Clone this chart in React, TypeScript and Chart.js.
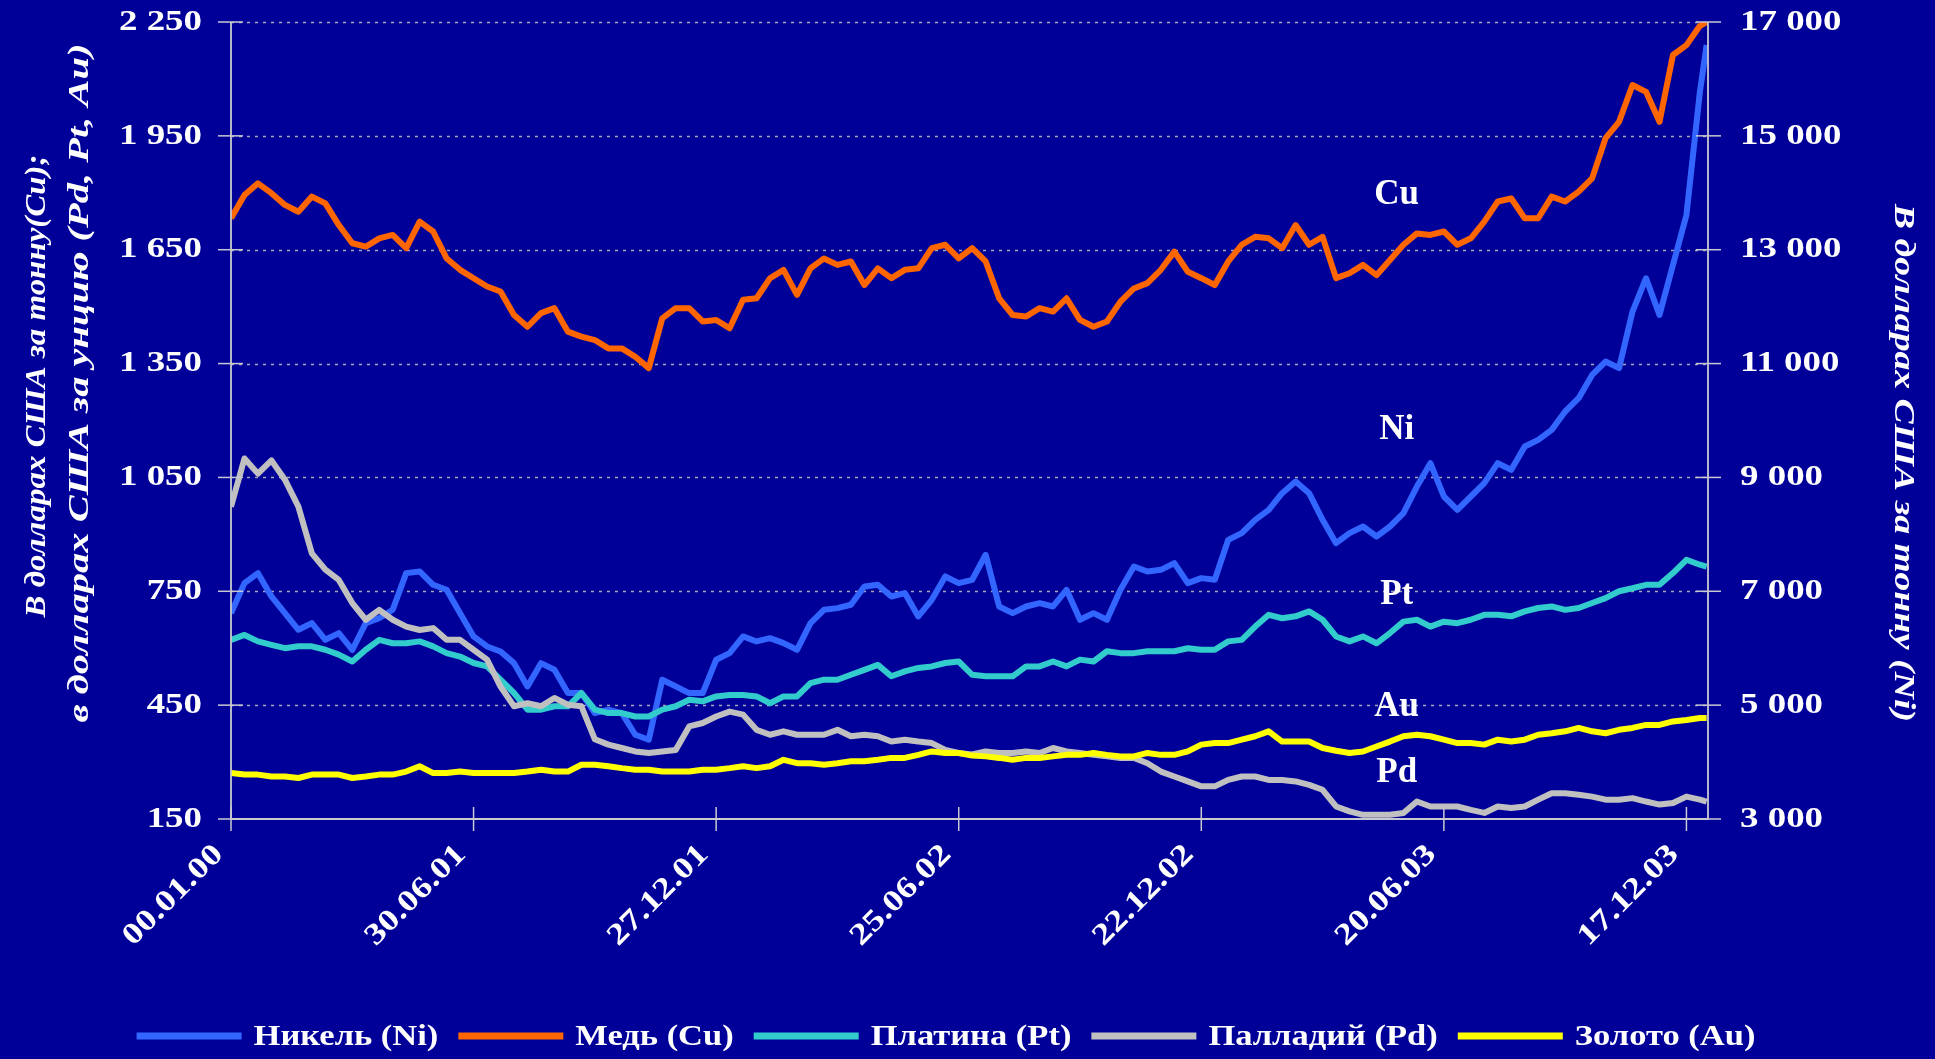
import React, { useEffect, useRef } from "react";
import { Chart, registerables } from "chart.js";

Chart.register(...registerables);

// ---- DATA ----
const days = [
  0, 10, 20, 30, 40, 50, 60, 70, 80, 90,
  100, 110, 120, 130, 140, 150, 160, 170, 180, 190,
  200, 210, 220, 230, 240, 250, 260, 270, 280, 290,
  300, 310, 320, 330, 340, 350, 360, 370, 380, 390,
  400, 410, 420, 430, 440, 450, 460, 470, 480, 490,
  500, 510, 520, 530, 540, 550, 560, 570, 580, 590,
  600, 610, 620, 630, 640, 650, 660, 670, 680, 690,
  700, 710, 720, 730, 740, 750, 760, 770, 780, 790,
  800, 810, 820, 830, 840, 850, 860, 870, 880, 890,
  900, 910, 920, 930, 940, 950, 960, 970, 980, 990,
  1000, 1010, 1020, 1030, 1040, 1050, 1060, 1070, 1080, 1090,
  1095,
];

const nickel = [
  6616, 7143, 7319, 6909, 6616, 6324, 6441, 6148, 6265, 5972,
  6441, 6529, 6675, 7319, 7348, 7114, 7026, 6616, 6207, 6031,
  5943, 5738, 5329, 5738, 5621, 5212, 5212, 4860, 4919, 4860,
  4480, 4392, 5446, 5329, 5212, 5212, 5797, 5914, 6207, 6119,
  6177, 6090, 5972, 6441, 6675, 6704, 6763, 7085, 7114, 6909,
  6968, 6558, 6850, 7260, 7143, 7202, 7641, 6733, 6616, 6733,
  6792, 6733, 7026, 6499, 6616, 6499, 7026, 7436, 7348, 7377,
  7494, 7143, 7231, 7202, 7904, 8021, 8255, 8431, 8723, 8928,
  8723, 8255, 7845, 8021, 8138, 7962, 8138, 8372, 8840, 9250,
  8665, 8431, 8665, 8899, 9250, 9133, 9543, 9660, 9835, 10158,
  10392, 10801, 11036, 10919, 11914, 12499, 11855, 12733, 13611, 15777,
  16596,
];

const copper = [
  1733, 1794, 1825, 1799, 1768, 1750, 1790, 1772, 1715, 1667,
  1658, 1680, 1689, 1654, 1724, 1698, 1627, 1597, 1575, 1553,
  1540, 1478, 1447, 1483, 1496, 1434, 1421, 1412, 1390, 1390,
  1368, 1338, 1469, 1496, 1496, 1461, 1465, 1443, 1518, 1522,
  1575, 1597, 1531, 1601, 1627, 1610, 1619, 1557, 1601, 1575,
  1597, 1601, 1654, 1663, 1627, 1654, 1619, 1522, 1478, 1474,
  1496, 1487, 1522, 1465, 1447, 1461, 1513, 1548, 1562, 1597,
  1645, 1592, 1575, 1557, 1619, 1663, 1684, 1680, 1654, 1715,
  1663, 1684, 1575, 1588, 1610, 1583, 1623, 1663, 1693, 1689,
  1698, 1663, 1680, 1724, 1777, 1785, 1733, 1733, 1790, 1777,
  1803, 1838, 1944, 1987, 2084, 2066, 1987, 2163, 2189, 2240,
  2250,
];

const platinum = [
  622, 635, 618, 609, 600, 605, 605, 596, 583, 565,
  596, 622, 613, 613, 618, 605, 587, 578, 561, 552,
  517, 482, 438, 438, 447, 447, 482, 438, 429, 429,
  420, 420, 438, 447, 464, 460, 473, 477, 477, 473,
  455, 473, 473, 508, 517, 517, 530, 543, 556, 526,
  539, 548, 552, 561, 565, 530, 526, 526, 526, 552,
  552, 565, 552, 570, 565, 592, 587, 587, 592, 592,
  592, 600, 596, 596, 618, 622, 657, 688, 679, 684,
  697, 675, 631, 618, 631, 613, 640, 670, 675, 657,
  670, 666, 675, 688, 688, 684, 697, 706, 710, 701,
  706, 719, 732, 750, 758, 767, 767, 798, 833, 820,
  815,
];

const palladium = [
  973, 1100, 1060, 1095, 1044, 973, 850, 807, 780, 719,
  675, 701, 675, 657, 648, 653, 622, 622, 596, 570,
  499, 447, 455, 447, 469, 451, 447, 360, 346, 337,
  328, 324, 328, 332, 394, 403, 420, 433, 425, 385,
  372, 381, 372, 372, 372, 385, 368, 372, 368, 354,
  359, 354, 350, 332, 324, 320, 328, 324, 324, 328,
  324, 337, 328, 324, 319, 315, 311, 311, 297, 275,
  262, 249, 236, 236, 253, 262, 262, 253, 253, 249,
  240, 227, 183, 170, 161, 161, 161, 166, 196, 183,
  183, 183, 174, 166, 183, 179, 183, 201, 218, 218,
  214, 209, 201, 201, 205, 196, 188, 192, 209, 201,
  196,
];

const gold = [
  271, 267, 267, 262, 262, 258, 267, 267, 267, 258,
  262, 267, 267, 275, 289, 271, 271, 275, 271, 271,
  271, 271, 275, 280, 275, 275, 293, 293, 289, 284,
  280, 280, 275, 275, 275, 280, 280, 284, 289, 284,
  289, 306, 297, 297, 293, 297, 302, 302, 306, 311,
  311, 319, 328, 324, 324, 317, 315, 311, 306, 311,
  311, 315, 319, 319, 324, 319, 315, 315, 324, 319,
  319, 328, 346, 350, 350, 359, 368, 381, 354, 354,
  354, 337, 330, 324, 328, 341, 354, 368, 372, 368,
  359, 350, 350, 346, 359, 354, 359, 372, 376, 381,
  390, 381, 376, 385, 390, 398, 398, 407, 411, 416,
  416,
];

const xTickDays = [0, 180, 360, 540, 720, 900, 1080];
const xTickLabels = ["00.01.00", "30.06.01", "27.12.01", "25.06.02", "22.12.02", "20.06.03", "17.12.03"];
const leftTicks = [150, 450, 750, 1050, 1350, 1650, 1950, 2250];
const leftTickLabels = ["150", "450", "750", "1 050", "1 350", "1 650", "1 950", "2 250"];
const rightTicks = [3000, 5000, 7000, 9000, 11000, 13000, 15000, 17000];
const rightTickLabels = ["3 000", "5 000", "7 000", "9 000", "11 000", "13 000", "15 000", "17 000"];

const seriesNames = ["Никель (Ni)", "Медь (Cu)", "Платина (Pt)", "Палладий (Pd)", "Золото (Au)"];
const seriesColors = ["#3366FF", "#FF6600", "#33CCCC", "#C0C0C0", "#FFFF00"];

const leftTitle = ["В долларах США за тонну(Cu);", "в долларах США за унцию (Pd, Pt, Au)"];
const rightTitle = "В долларах США за тонну (Ni)";

const seriesTags = [
  { text: "Cu", day: 865, value: 1794, axis: "y" },
  { text: "Ni", day: 865, value: 9836, axis: "y1" },
  { text: "Pt", day: 865, value: 741, axis: "y" },
  { text: "Au", day: 865, value: 446, axis: "y" },
  { text: "Pd", day: 865, value: 272, axis: "y" },
];

// ---- STYLE ----
const BG = "#000099";
const FONT_FAMILY = '"Liberation Serif", "Times New Roman", serif';
const STRETCH = 1.23;

function drawText(
  ctx: CanvasRenderingContext2D,
  text: string,
  x: number,
  y: number,
  font: string,
  align: CanvasTextAlign,
  sx: number,
  rot = 0
) {
  ctx.save();
  ctx.translate(x, y);
  if (rot) ctx.rotate(rot);
  ctx.scale(sx, 1);
  ctx.font = font;
  ctx.textAlign = align;
  ctx.textBaseline = "middle";
  ctx.fillStyle = "#FFFFFF";
  ctx.fillText(text, 0, 0);
  ctx.restore();
}

const decorPlugin = {
  id: "decor",
  beforeDraw(chart: any) {
    const ctx = chart.ctx as CanvasRenderingContext2D;
    ctx.save();
    ctx.fillStyle = BG;
    ctx.fillRect(0, 0, chart.width, chart.height);
    ctx.restore();
  },
  beforeDatasetsDraw(chart: any) {
    const ctx = chart.ctx as CanvasRenderingContext2D;
    const { left, right } = chart.chartArea;
    const ys = chart.scales.y;
    ctx.save();
    ctx.strokeStyle = "#A8A8B8";
    ctx.lineWidth = 1.5;
    ctx.setLineDash([3, 5]);
    leftTicks.forEach((v) => {
      if (v === leftTicks[0]) return;
      const py = Math.round(ys.getPixelForValue(v)) + 0.5;
      ctx.beginPath();
      ctx.moveTo(left, py);
      ctx.lineTo(right, py);
      ctx.stroke();
    });
    ctx.restore();
  },
  afterDatasetsDraw(chart: any) {
    const ctx = chart.ctx as CanvasRenderingContext2D;
    const { left, right, top, bottom } = chart.chartArea;
    const xs = chart.scales.x;
    const ys = chart.scales.y;
    const ys1 = chart.scales.y1;

    // axis lines and tick marks
    ctx.save();
    ctx.strokeStyle = "#C8C8D0";
    ctx.lineWidth = 1.8;
    ctx.beginPath();
    ctx.moveTo(left, top);
    ctx.lineTo(left, bottom);
    ctx.lineTo(right, bottom);
    ctx.lineTo(right, top);
    ctx.stroke();
    ctx.lineWidth = 1.5;
    leftTicks.forEach((v) => {
      const py = ys.getPixelForValue(v);
      ctx.beginPath();
      ctx.moveTo(left - 13, py);
      ctx.lineTo(left + 12, py);
      ctx.stroke();
    });
    rightTicks.forEach((v) => {
      const py = ys1.getPixelForValue(v);
      ctx.beginPath();
      ctx.moveTo(right - 12, py);
      ctx.lineTo(right + 13, py);
      ctx.stroke();
    });
    xTickDays.forEach((d) => {
      const px = xs.getPixelForValue(d);
      ctx.beginPath();
      ctx.moveTo(px, bottom - 12);
      ctx.lineTo(px, bottom + 12);
      ctx.stroke();
    });
    ctx.restore();

    const tickFont = `bold 30px ${FONT_FAMILY}`;
    leftTicks.forEach((v, i) => {
      drawText(ctx, leftTickLabels[i], left - 29, ys.getPixelForValue(v), tickFont, "right", STRETCH);
    });
    rightTicks.forEach((v, i) => {
      drawText(ctx, rightTickLabels[i], right + 32, ys1.getPixelForValue(v), tickFont, "left", STRETCH);
    });
    xTickDays.forEach((d, i) => {
      const px = xs.getPixelForValue(d);
      drawText(ctx, xTickLabels[i], px - 12, bottom + 31, tickFont, "right", STRETCH, -Math.PI / 4);
    });

    // axis titles
    const titleFont = `italic bold 30px ${FONT_FAMILY}`;
    const fitText = (text: string, target: number) => {
      ctx.save();
      ctx.font = titleFont;
      const w = ctx.measureText(text).width;
      ctx.restore();
      return target / w;
    };
    drawText(ctx, leftTitle[0], 37, 386, titleFont, "center", fitText(leftTitle[0], 463), -Math.PI / 2);
    drawText(ctx, leftTitle[1], 80, 383, titleFont, "center", fitText(leftTitle[1], 679), -Math.PI / 2);
    drawText(ctx, rightTitle, 1903, 463, titleFont, "center", fitText(rightTitle, 518), Math.PI / 2);

    // series tags
    const tagFont = `bold 35px ${FONT_FAMILY}`;
    seriesTags.forEach((t) => {
      const sc = t.axis === "y1" ? ys1 : ys;
      drawText(ctx, t.text, xs.getPixelForValue(t.day), sc.getPixelForValue(t.value), tagFont, "center", 1);
    });

    // legend
    const legFont = `bold 30px ${FONT_FAMILY}`;
    const legStretch = 1.15;
    const swatchW = 105;
    const gapAfterSwatch = 12;
    const gapAfterText = 20;
    ctx.save();
    ctx.font = legFont;
    const widths = seriesNames.map((n) => ctx.measureText(n).width * legStretch);
    ctx.restore();
    const total =
      widths.reduce((a, b) => a + b, 0) + seriesNames.length * (swatchW + gapAfterSwatch) + (seriesNames.length - 1) * gapAfterText;
    let lx = 946 - total / 2;
    const ly = 1036;
    seriesNames.forEach((n, i) => {
      ctx.save();
      ctx.fillStyle = seriesColors[i];
      ctx.fillRect(lx, ly - 3.5, swatchW, 7);
      ctx.restore();
      lx += swatchW + gapAfterSwatch;
      drawText(ctx, n, lx, ly + 1, legFont, "left", legStretch);
      lx += widths[i] + gapAfterText;
    });
  },
};

const toPoints = (vals: number[]) => days.map((d, i) => ({ x: d, y: vals[i] }));

export default function App() {
  const canvasRef = useRef<HTMLCanvasElement>(null);

  useEffect(() => {
    document.body.style.margin = "0";
    document.body.style.overflow = "hidden";
    document.body.style.background = BG;
    const canvas = canvasRef.current;
    if (!canvas) return;
    const seriesValues = [nickel, copper, platinum, palladium, gold];
    const axes = ["y1", "y", "y", "y", "y"];
    const orders = [5, 4, 3, 2, 1];
    const chart = new Chart(canvas, {
      type: "line",
      data: {
        datasets: seriesValues.map((vals, i) => ({
          label: seriesNames[i],
          data: toPoints(vals),
          borderColor: seriesColors[i],
          backgroundColor: seriesColors[i],
          borderWidth: 6,
          pointRadius: 0,
          tension: 0,
          borderJoinStyle: "round" as const,
          yAxisID: axes[i],
          order: orders[i],
        })),
      },
      options: {
        animation: false,
        responsive: false,
        devicePixelRatio: 1,
        layout: { padding: { top: 22, left: 0, right: 0, bottom: 0 } },
        plugins: { legend: { display: false }, tooltip: { enabled: false } },
        scales: {
          x: {
            type: "linear",
            min: 0,
            max: 1096,
            ticks: { display: false },
            grid: { display: false },
            border: { display: false },
            afterFit: (s: any) => {
              s.height = 240;
            },
          },
          y: {
            position: "left",
            min: 150,
            max: 2250,
            ticks: { display: false, stepSize: 300 },
            grid: { display: false },
            border: { display: false },
            afterFit: (s: any) => {
              s.width = 231;
            },
          },
          y1: {
            position: "right",
            min: 3000,
            max: 17000,
            ticks: { display: false, stepSize: 2000 },
            grid: { display: false },
            border: { display: false },
            afterFit: (s: any) => {
              s.width = 227;
            },
          },
        },
      } as any,
      plugins: [decorPlugin],
    });
    return () => chart.destroy();
  }, []);

  return (
    <div style={{ position: "absolute", left: 0, top: 0, width: 1935, height: 1059, background: BG }}>
      <canvas ref={canvasRef} width={1935} height={1059} style={{ display: "block" }} />
    </div>
  );
}
